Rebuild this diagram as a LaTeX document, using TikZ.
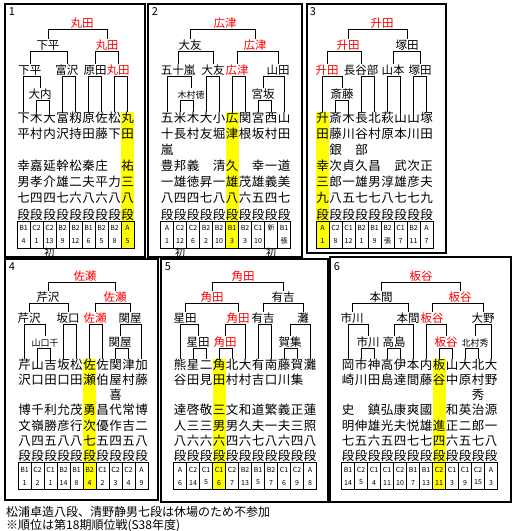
\documentclass[tikz,border=0pt]{standalone}
\usepackage{fontspec}
\setmainfont{Noto Sans CJK JP}
\definecolor{champred}{HTML}{FF0000}
\definecolor{markyellow}{HTML}{FFFF00}

\tikzset{
  namechar/.style={font=\fontsize{12.5}{13}\selectfont, inner sep=0pt, text height=10pt, text depth=2pt},
  winner/.style={font=\fontsize{11.5}{12}\selectfont, inner sep=0pt, text height=10pt, text depth=2pt},
  winred/.style={winner, text=champred},
  winsmall/.style={winner, font=\fontsize{9}{10}\selectfont},
  cellfont/.style={font=\fontsize{7}{7}\selectfont, inner sep=0pt},
  cellline/.style={black, line width=0.8pt},
  bracket/.style={black, line width=1pt},
  panelframe/.style={black, line width=2pt},
  debut/.style={font=\fontsize{10}{10}\selectfont, inner sep=0pt},
  panelno/.style={font=\fontsize{11}{11}\selectfont, inner sep=0pt},
  notetext/.style={font=\fontsize{12}{14}\selectfont, inner sep=0pt, anchor=west}
}

% #1 panel, #2 first column x, #3 first row y, #4 row step, #5 columns
\newcommand{\playercols}[5]{%
  \foreach \k/\chars/\cls/\num in {#5} {
    \pgfmathsetmacro{\cx}{#2+13*(\k-1)}
    \foreach \ch [count=\r] in \chars {
      \node[namechar] (#1c\k-\r) at (\cx,{#3+#4*(\r-1)}) {\ch};
    }
    \coordinate (#1c\k) at (#1c\k-1.north);
    \draw[cellline] (\cx-6.5,{#3+#4*6+6}) rectangle ++(13,27);
    \node[cellfont] (#1k\k) at (\cx,{#3+#4*6+13}) {\cls};
    \node[cellfont] (#1n\k) at (\cx,{#3+#4*6+26}) {\num};
  }%
}

\begin{document}
\begin{tikzpicture}[x=1pt,y=-1pt]
    \fill[white] (0,0) rectangle (516,531);
    \useasboundingbox (0,0) rectangle (516,531);

    % frames
    \draw[panelframe] (5,4) rectangle (145,257);
    \draw[panelframe] (148,4) rectangle (302,257);
    \draw[panelframe] (307,4) rectangle (446,253);
    \draw[panelframe] (5,259) rectangle (158,500);
    \draw[panelframe] (161,259) rectangle (328,502);
    \draw[panelframe] (330,257) rectangle (511,502);

    \foreach \n/\x/\y in {1/12/12,2/155/12,3/313/12,4/12/267,5/168/267,6/337/267}
        \node[panelno] (no\n) at (\x,\y) {\n};

    % highlighted columns
    \fill[markyellow] (121,111.5) rectangle (134,248);
    \fill[markyellow] (225.5,111.5) rectangle (238.5,248);
    \fill[markyellow] (316,111.5) rectangle (329,248);
    \fill[markyellow] (83,358.5) rectangle (96,489.5);
    \fill[markyellow] (212.5,358.5) rectangle (225.5,489.5);
    \fill[markyellow] (432.5,358.5) rectangle (445.5,489.5);

    % 1
    \playercols{p1}{23.5}{118}{16.17}{1/{下,平,,幸,男,七,段}/B1/4, 2/{木,村,,嘉,孝,四,段}/C2/1,
        3/{大,内,,延,介,四,段}/C2/13, 4/{富,沢,,幹,雄,七,段}/B2/9, 5/{籾,持,,松,二,六,段}/B2/12,
        6/{原,田,,秦,夫,八,段}/B1/6, 7/{佐,藤,,庄,平,六,段}/B2/5, 8/{松,下,,,力,八,段}/B2/8,
        9/{丸,田,,祐,三,八,段}/A/5}
    \foreach \n/\x/\y/\t/\s in {f/82/23/丸田/winred, s1/48/45/下平/winner, s2/107/45/丸田/winred,
        q1/30/70/下平/winner, q2/67/70/富沢/winner, q3/95/70/原田/winner, q4/118/70/丸田/winred,
        u1/40/94/大内/winner}
        \node[\s] (p1\n) at (\x,\y) {\t};
    \foreach \a/\m/\b in {s1.north/f/s2.north, q1.north/s1/q2.north, q3.north/s2/q4.north,
        c1/q1/u1.north, c4/q2/c5, c6/q3/c7, c8/q4/c9, c2/u1/c3}
        \draw[bracket] (p1\a) |- (p1\m.south) -| (p1\b);
    \node[debut] (p1d3) at (49.5,253) {初};

    % 2
    \playercols{p2}{167}{118}{16.17}{1/{五,十,嵐,豊,一,八,段}/A/1, 2/{米,長,,邦,雄,四,段}/C2/12,
        3/{木,村,,義,徳,四,段}/C2/6, 4/{大,友,,,昇,七,段}/B2/2, 5/{小,堀,,清,一,八,段}/B2/10,
        6/{広,津,,久,雄,八,段}/B1/3, 7/{関,根,,,茂,六,段}/B2/3, 8/{宮,坂,,幸,雄,五,段}/C1/10,
        9/{西,村,,一,義,四,段}/新/{}, 10/{山,田,,道,美,七,段}/B1/張}
    \foreach \n/\x/\y/\t/\s in {f/225/23/広津/winred, s1/190/45/大友/winner, s2/255/45/広津/winred,
        q1/178/70/五十嵐/winner, q2/213/70/大友/winner, q3/237/70/広津/winred, q4/278/70/山田/winner,
        u1/191/94/木村徳/winsmall, u2/263/94/宮坂/winner}
        \node[\s] (p2\n) at (\x,\y) {\t};
    \foreach \a/\m/\b in {s1.north/f/s2.north, q1.north/s1/q2.north, q3.north/s2/q4.north,
        c1/q1/u1.north, c4/q2/c5, c6/q3/c7, u2.north/q4/c10, c2/u1/c3, c8/u2/c9}
        \draw[bracket] (p2\a) |- (p2\m.south) -| (p2\b);
    \node[debut] (p2d2) at (180,253) {初};
    \node[debut] (p2d9) at (271,253) {初};

    % 3
    \playercols{p3}{322.5}{118}{16.17}{1/{升,田,,幸,三,九,段}/A/1, 2/{斎,藤,銀,次,郎,八,段}/C2/8,
        3/{木,川,,貞,一,五,段}/C1/12, 4/{長,谷,部,久,雄,七,段}/B2/1, 5/{北,村,,昌,男,七,段}/B1/9,
        6/{萩,原,,,淳,八,段}/B2/張, 7/{山,本,,武,雄,七,段}/C1/7, 8/{山,川,,次,彦,七,段}/B2/11,
        9/{塚,田,,正,夫,九,段}/A/7}
    \foreach \n/\x/\y/\t/\s in {f/382/23/升田/winred, s1/348/45/升田/winred, s2/407/45/塚田/winner,
        q1/327/70/升田/winred, q2/361/70/長谷部/winner, q3/393/70/山本/winner, q4/420/70/塚田/winner,
        u1/342/94/斎藤/winner}
        \node[\s] (p3\n) at (\x,\y) {\t};
    \foreach \a/\m/\b in {s1.north/f/s2.north, q1.north/s1/q2.north, q3.north/s2/q4.north,
        c1/q1/u1.north, c4/q2/c5, c6/q3/c7, c8/q4/c9, c2/u1/c3}
        \draw[bracket] (p3\a) |- (p3\m.south) -| (p3\b);

    % 4
    \playercols{p4}{24.5}{365}{15.25}{1/{芹,沢,,博,文,八,段}/B1/1, 2/{山,口,,千,嶺,四,段}/C2/2,
        3/{吉,田,,利,勝,五,段}/C1/1, 4/{坂,口,,允,彦,八,段}/B2/14, 5/{松,田,,茂,行,八,段}/B1/8,
        6/{佐,瀬,,勇,次,七,段}/B2/4, 7/{佐,伯,,昌,優,五,段}/C1/2, 8/{関,屋,喜,代,作,四,段}/C2/3,
        9/{津,村,,常,吉,五,段}/C2/4, 10/{加,藤,,博,二,八,段}/A/9}
    \foreach \n/\x/\y/\t/\s in {f/85/276/佐瀬/winred, s1/48/297/芹沢/winner, s2/115/297/佐瀬/winred,
        q1/29/318/芹沢/winner, q2/68/318/坂口/winner, q3/95/318/佐瀬/winred, q4/130/318/関屋/winner,
        u1/45/342/山口千/winsmall, u2/120/342/関屋/winner}
        \node[\s] (p4\n) at (\x,\y) {\t};
    \foreach \a/\m/\b in {s1.north/f/s2.north, q1.north/s1/q2.north, q3.north/s2/q4.north,
        c1/q1/u1.north, c4/q2/c5, c6/q3/c7, u2.north/q4/c10, c2/u1/c3, c8/u2/c9}
        \draw[bracket] (p4\a) |- (p4\m.south) -| (p4\b);

    % 5
    \playercols{p5}{180}{365}{15.25}{1/{熊,谷,,達,人,八,段}/A/6, 2/{星,田,,啓,三,六,段}/C2/14,
        3/{二,見,,敬,三,六,段}/C1/5, 4/{角,田,,三,男,六,段}/C1/6, 5/{北,村,,文,男,四,段}/C2/7,
        6/{大,村,,和,久,六,段}/B2/13, 7/{有,吉,,道,夫,七,段}/B1/5, 8/{南,口,,繁,一,八,段}/B2/7,
        9/{藤,川,,義,夫,六,段}/C1/6, 10/{賀,集,,正,三,四,段}/C2/9, 11/{灘,,,蓮,照,八,段}/A/8}
    \foreach \n/\x/\y/\t/\s in {f/243/276/角田/winred, s1/212/297/角田/winred, s2/283/297/有吉/winner,
        q1/185/318/星田/winner, q2/238/318/角田/winred, q3/263/318/有吉/winner, q4/303/318/灘/winner,
        u1/198/342/星田/winner, u2/225/342/角田/winred, u3/290/342/賀集/winner}
        \node[\s] (p5\n) at (\x,\y) {\t};
    \foreach \a/\m/\b in {s1.north/f/s2.north, q1.north/s1/q2.north, q3.north/s2/q4.north,
        c1/q1/u1.north, u2.north/q2/c6, c7/q3/c8, u3.north/q4/c11, c2/u1/c3, c4/u2/c5, c9/u3/c10}
        \draw[bracket] (p5\a) |- (p5\m.south) -| (p5\b);

    % 6
    \playercols{p6}{348}{365}{15.25}{1/{岡,崎,,史,明,七,段}/B1/14, 2/{市,川,,,伸,五,段}/C2/5,
        3/{神,田,,鎮,雄,六,段}/C1/4, 4/{高,島,,弘,光,五,段}/C1/11, 5/{伊,達,,康,夫,四,段}/C2/10,
        6/{本,間,,爽,悦,七,段}/B1/7, 7/{内,藤,,國,雄,七,段}/B1/13, 8/{板,谷,,,進,四,段}/C2/11,
        9/{山,中,,和,正,六,段}/C1/3, 10/{大,原,,英,二,五,段}/C1/9, 11/{北,村,秀,治,郎,七,段}/C2/15,
        12/{大,野,,源,一,八,段}/A/3}
    \foreach \n/\x/\y/\t/\s in {f/421/276/板谷/winred, s1/381/297/本間/winner, s2/460/297/板谷/winred,
        q1/352/318/市川/winner, q2/408/318/本間/winner, q3/432/318/板谷/winred, q4/483/318/大野/winner,
        u1/368/342/市川/winner, u2/394/342/高島/winner, u3/446/342/板谷/winred, u4/475/342/北村秀/winsmall}
        \node[\s] (p6\n) at (\x,\y) {\t};
    \foreach \a/\m/\b in {s1.north/f/s2.north, q1.north/s1/q2.north, q3.north/s2/q4.north,
        c1/q1/u1.north, u2.north/q2/c6, c7/q3/u3.north, u4.north/q4/c12, c2/u1/c3, c4/u2/c5,
        c8/u3/c9, c10/u4/c11}
        \draw[bracket] (p6\a) |- (p6\m.south) -| (p6\b);

    % notes
    \node[notetext] (note1) at (6,512) {松浦卓造八段、清野静男七段は休場のため不参加};
    \node[notetext] (note2) at (6,526) {※順位は第18期順位戦(S38年度)};
\end{tikzpicture}
\end{document}
